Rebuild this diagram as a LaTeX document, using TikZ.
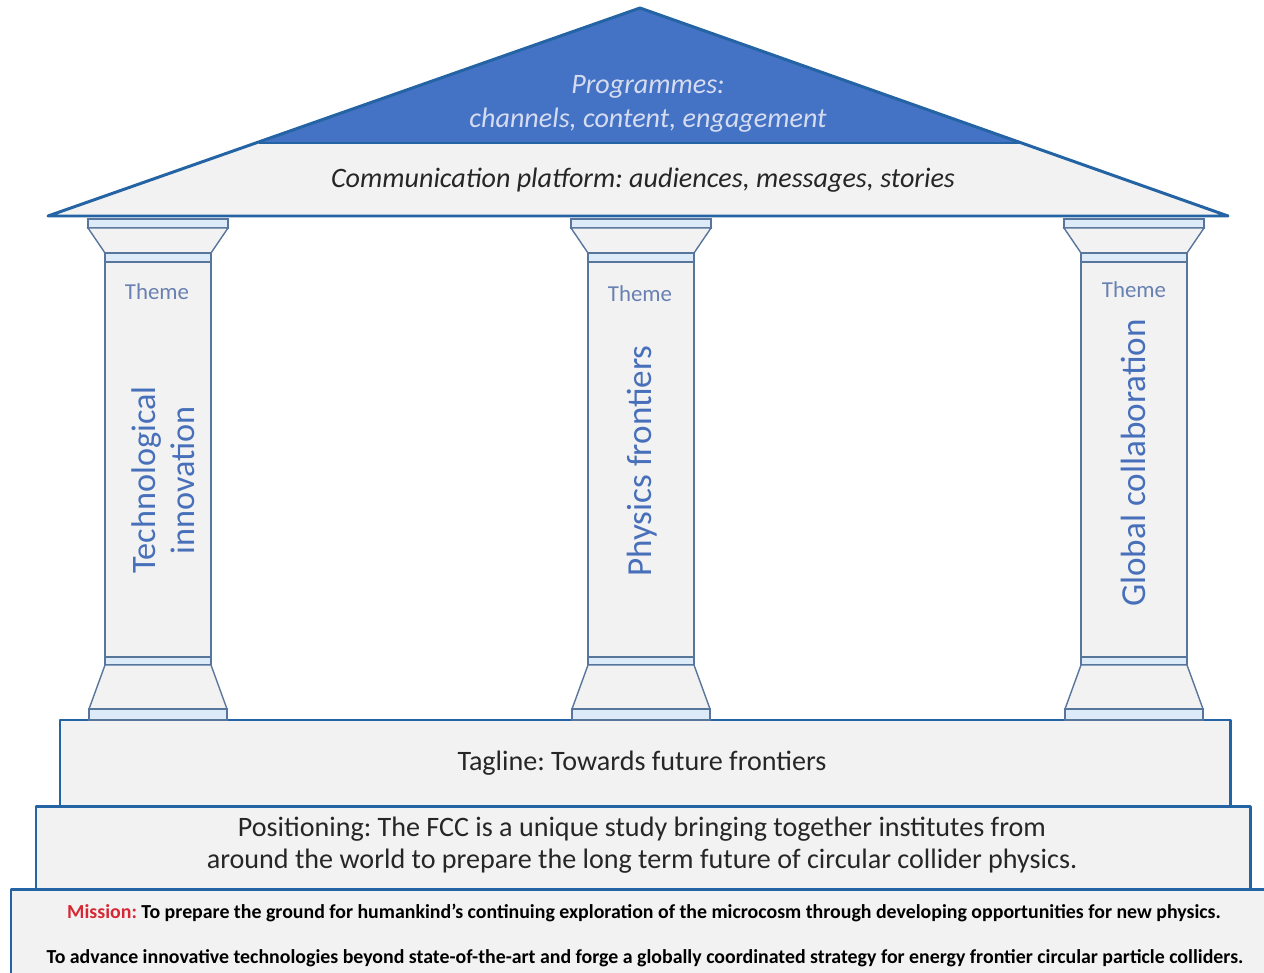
\documentclass[tikz,border=0pt]{standalone}
\usepackage{fontspec}
\setmainfont{Carlito}
\usetikzlibrary{positioning}
\frenchspacing

\definecolor{roofblue}{RGB}{68,114,196}
\definecolor{edgeblue}{RGB}{36,100,164}
\definecolor{colline}{RGB}{88,118,156}
\definecolor{bandblue}{RGB}{221,235,248}
\definecolor{panel}{RGB}{242,242,242}
\definecolor{titleblue}{RGB}{72,112,186}
\definecolor{themeblue}{RGB}{104,128,178}
\definecolor{missionred}{RGB}{214,40,52}
\definecolor{roofink}{RGB}{214,220,240}

\begin{document}
\begin{tikzpicture}[
		x=0.02cm, y=-0.02cm,
		edge/.style={draw=edgeblue, line width=1.7pt, line join=round},
		stone/.style={draw=colline, line width=0.8pt, fill=panel},
		band/.style={draw=colline, line width=0.8pt, fill=bandblue},
		roofit/.style={font=\fontsize{16}{19}\selectfont\itshape, align=center},
		body/.style={font=\fontsize{16}{18.2}\selectfont, align=center, text=black!85},
		pillartitle/.style={font=\fontsize{20}{22}\selectfont, text=titleblue, align=center, rotate=90},
		theme/.style={font=\fontsize{13}{15}\selectfont, text=themeblue},
		mission/.style={font=\fontsize{11.3}{13}\selectfont\bfseries}
	]
		\useasboundingbox (0,0) rectangle (1264,973);

		% steps
		\draw[edge, fill=panel] (11,889) rectangle (1272,985);
		\draw[edge, fill=panel] (36,806) rectangle (1250,889);
		\draw[edge, fill=panel] (60,720) rectangle (1230,806);

		% pillars
		\foreach \cx in {158,641,1134}{
			\draw[band]  (\cx-70,219) rectangle (\cx+70,228);
			\draw[stone] (\cx-70,228) -- (\cx+70,228) -- (\cx+53,253) -- (\cx-53,253) -- cycle;
			\draw[band]  (\cx-53,253) rectangle (\cx+53,262);
			\draw[stone] (\cx-53,262) rectangle (\cx+53,657);
			\draw[band]  (\cx-53,657) rectangle (\cx+53,665);
			\draw[stone] (\cx-53,665) -- (\cx+53,665) -- (\cx+69,709) -- (\cx-69,709) -- cycle;
			\draw[band]  (\cx-69,709) rectangle (\cx+69,720);
		}

		% roof
		\fill[panel] (48,216) -- (640,8) -- (1228,216) -- cycle;
		\fill[roofblue] (259,143) -- (640,8) -- (1022,143) -- cycle;
		\draw[edge] (259,143) -- (1022,143);
		\draw[edge] (48,216) -- (640,8) -- (1228,216) -- cycle;

		\draw
			node [roofit,text=roofink] (prog) at (648,104) {Programmes:\\channels, content, engagement}
			node [roofit,text=black!85] (comm) at (643,180) {Communication platform: audiences, messages, stories}

			node [theme] (theme1) at (157,292) {Theme}
			node [theme] (theme2) at (640,294) {Theme}
			node [theme] (theme3) at (1134,290) {Theme}

			node [pillartitle,font=\fontsize{19.5}{22}\selectfont] (tech) at (163,480) {Technological\\innovation}
			node [pillartitle] (phys) at (642,461) {Physics frontiers}
			node [pillartitle] (glob) at (1133,463) {Global collaboration}

			node [body] (tagline) at (642,763) {Tagline: Towards future frontiers}
			node [body] (position) at (642,845) {Positioning: The FCC is a unique study bringing together institutes from\\around the world to prepare the long term future of circular collider physics.}

			node [mission] (mission1) at (644,913) {\textcolor{missionred}{Mission:} To prepare the ground for humankind’s continuing exploration of the microcosm through developing opportunities for new physics.}
			node [mission] (mission2) at (645,958) {To advance innovative technologies beyond state-of-the-art and forge a globally coordinated strategy for energy frontier circular particle colliders.}
		;
\end{tikzpicture}
\end{document}
